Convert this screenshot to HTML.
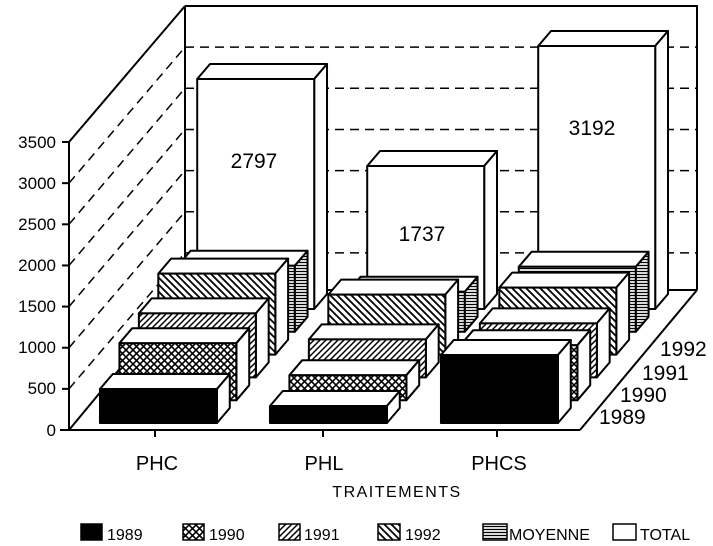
<!DOCTYPE html>
<html><head><meta charset="utf-8"><style>
html,body{margin:0;padding:0;background:#fff;}
svg{display:block;}
text{font-family:"Liberation Sans",sans-serif;fill:#000;}
</style></head><body>
<svg id="s" width="713" height="546" viewBox="0 0 713 546" xmlns="http://www.w3.org/2000/svg">
<defs>
<pattern id="pc" width="7" height="7" patternUnits="userSpaceOnUse"><rect width="7" height="7" fill="#fff"/><path d="M0,0L7,7M7,0L0,7" stroke="#000" stroke-width="1.6"/></pattern>
<pattern id="p91" width="6" height="6" patternUnits="userSpaceOnUse"><rect width="6" height="6" fill="#fff"/><path d="M-1,7L7,-1M-1,1L1,-1M5,7L7,5" stroke="#000" stroke-width="1.5"/></pattern>
<pattern id="p92" width="7" height="7" patternUnits="userSpaceOnUse"><rect width="7" height="7" fill="#fff"/><path d="M-1,-1L8,8M-1,6L1,8M6,-1L8,1" stroke="#000" stroke-width="1.8"/></pattern>
<pattern id="pm" width="4" height="3" patternUnits="userSpaceOnUse"><rect width="4" height="3" fill="#fff"/><path d="M0,1.5H4" stroke="#000" stroke-width="1.3"/></pattern>
</defs>
<g fill="none" stroke="#000" stroke-width="2">
<line x1="185" y1="6" x2="697" y2="6"/>
<line x1="697" y1="5" x2="697" y2="290"/>
<line x1="185" y1="6" x2="185" y2="290"/>
<line x1="69" y1="142" x2="185" y2="6"/>
<line x1="69" y1="142" x2="69" y2="430"/>
<line x1="60" y1="430" x2="580" y2="430"/>
<line x1="69" y1="430" x2="185" y2="290"/>
<line x1="580" y1="430" x2="697" y2="290"/>
<line x1="185" y1="290" x2="697" y2="290"/>
</g>
<g id="grid" fill="none" stroke="#000" stroke-width="1.5" stroke-dasharray="9,6"></g>
<g id="bars" stroke="#000" stroke-width="2" stroke-linejoin="round"></g>
<g font-size="17" text-anchor="end">
<text x="56" y="148">3500</text><text x="56" y="189">3000</text><text x="56" y="230">2500</text><text x="56" y="271">2000</text><text x="56" y="312">1500</text><text x="56" y="353">1000</text><text x="56" y="394">500</text><text x="56" y="436">0</text>
</g>
<g font-size="21">
<text x="254" y="168" text-anchor="middle">2797</text>
<text x="422" y="241" text-anchor="middle">1737</text>
<text x="592" y="135" text-anchor="middle">3192</text>
</g>
<g font-size="21">
<text x="660" y="356">1992</text><text x="642" y="380">1991</text><text x="620" y="402">1990</text><text x="599" y="424">1989</text>
</g>
<g font-size="20" text-anchor="middle">
<text x="157" y="470">PHC</text><text x="324" y="470">PHL</text><text x="499" y="470">PHCS</text>
</g>
<text x="397" y="497" font-size="16" text-anchor="middle" letter-spacing="1.5">TRAITEMENTS</text>
<g stroke="#000" stroke-width="1.5">
<rect x="81" y="524" width="21" height="16" fill="#000"/>
<rect x="183" y="524" width="21" height="16" fill="url(#pc)"/>
<rect x="279" y="524" width="21" height="16" fill="url(#p91)"/>
<rect x="378" y="524" width="22" height="16" fill="url(#p92)"/>
<rect x="483" y="524" width="24" height="16" fill="url(#pm)"/>
<rect x="613" y="524" width="23" height="16" fill="#fff"/>
</g>
<g font-size="16">
<text x="107" y="540">1989</text><text x="209" y="540">1990</text><text x="304" y="540">1991</text><text x="405" y="540">1992</text><text x="509" y="540">MOYENNE</text><text x="640" y="540">TOTAL</text>
</g>
<g stroke="#000" stroke-width="2"><line x1="155" y1="430" x2="155" y2="437"/><line x1="323" y1="430" x2="323" y2="437"/><line x1="497" y1="430" x2="497" y2="437"/></g>
</svg>
<script>
var NS="http://www.w3.org/2000/svg";
function el(p,t,a){var e=document.createElementNS(NS,t);for(var k in a)e.setAttribute(k,a[k]);p.appendChild(e);return e;}
var g=document.getElementById("grid");
for(var k=1;k<=6;k++){var y=430-k*41.14;el(g,"line",{x1:69,y1:y,x2:185,y2:y-136});el(g,"line",{x1:185,y1:y-136,x2:697,y2:y-136});
el(g,"line",{x1:62,y1:y,x2:69,y2:y,"stroke-dasharray":"none","stroke-width":2});}
el(g,"line",{x1:62,y1:142,x2:69,y2:142,"stroke-dasharray":"none","stroke-width":2});
var b=document.getElementById("bars");
var cats=[94,264,435];
var H=[[34,57,64,81,66,230],[17,25,38,60,40,143],[68,55,54,67,65,263]];
var fills=["#000","url(#pc)","url(#p91)","url(#p92)","url(#pm)","#fff"];
var W=117,DX=12.8,DY=15;
for(var i=5;i>=0;i--){for(var c=0;c<3;c++){
var d=7+22.8*i,h=H[c][i],fx=cats[c]+0.853*d,fy=430-d-h;
el(b,"polygon",{points:[fx,fy,fx+W,fy,fx+W+DX,fy-DY,fx+DX,fy-DY].join(","),fill:"#fff"});
el(b,"polygon",{points:[fx+W,fy,fx+W+DX,fy-DY,fx+W+DX,fy+h-DY,fx+W,fy+h].join(","),fill:i==4?"url(#pm)":"#fff"});
el(b,"rect",{x:fx,y:fy,width:W,height:h,fill:fills[i]});
}}
</script>
</body></html>
